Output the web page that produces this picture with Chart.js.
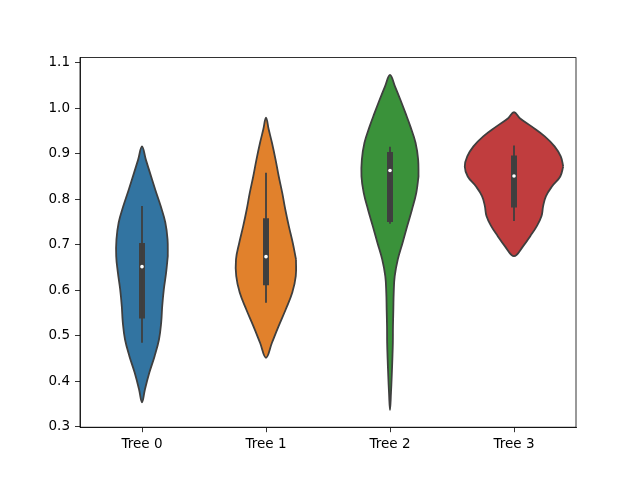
<!DOCTYPE html>
<html>
<head>
<meta charset="utf-8">
<script src="https://cdn.jsdelivr.net/npm/chart.js@4/dist/chart.umd.min.js"></script>
<style>
  html, body { margin: 0; padding: 0; background: #fff; }
  canvas { display: block; }
</style>
</head>
<body>
<canvas id="violinChart" width="640" height="480"></canvas>
<script>
const categories = ['Tree 0', 'Tree 1', 'Tree 2', 'Tree 3'];
const yTicks = [0.3, 0.4, 0.5, 0.6, 0.7, 0.8, 0.9, 1.0, 1.1];

// violin outlines: y levels (top to bottom) and half widths in category units
const levels0 = [0.916, 0.887, 0.859, 0.821, 0.784, 0.749, 0.712, 0.675, 0.640, 0.602, 0.565, 0.530, 0.492, 0.455, 0.420, 0.383, 0.354];
const widths0 = [0, 0.031, 0.063, 0.107, 0.152, 0.188, 0.206, 0.208, 0.195, 0.176, 0.163, 0.155, 0.137, 0.101, 0.060, 0.024, 0];

const levels1 = [0.979, 0.953, 0.924, 0.887, 0.850, 0.814, 0.777, 0.741, 0.704, 0.668, 0.631, 0.595, 0.558, 0.521, 0.485, 0.452];
const widths1 = [0, 0.022, 0.048, 0.077, 0.103, 0.131, 0.156, 0.184, 0.216, 0.242, 0.240, 0.212, 0.159, 0.101, 0.048, 0];

const levels2 = [1.073, 1.048, 1.019, 0.989, 0.960, 0.924, 0.887, 0.850, 0.814, 0.777, 0.741, 0.704, 0.668, 0.631, 0.595, 0.558, 0.521, 0.485, 0.448, 0.412, 0.375, 0.337];
const widths2 = [0, 0.040, 0.083, 0.125, 0.164, 0.206, 0.227, 0.230, 0.212, 0.177, 0.139, 0.101, 0.063, 0.038, 0.030, 0.027, 0.024, 0.023, 0.019, 0.014, 0.008, 0];

const levels3 = [0.991, 0.978, 0.960, 0.938, 0.916, 0.894, 0.872, 0.850, 0.829, 0.807, 0.785, 0.763, 0.741, 0.719, 0.697, 0.675];
const widths3 = [0, 0.047, 0.141, 0.248, 0.327, 0.377, 0.397, 0.373, 0.309, 0.258, 0.235, 0.222, 0.184, 0.131, 0.074, 0];

// inner box stats
const whiskerLow = [0.485, 0.573, 0.746, 0.752];
const q1 = [0.538, 0.611, 0.750, 0.782];
const medians = [0.652, 0.674, 0.863, 0.851];
const q3 = [0.704, 0.758, 0.904, 0.896];
const whiskerHigh = [0.785, 0.858, 0.915, 0.918];

const colors = ['#3274a1', '#e1812c', '#3a923a', '#c03d3e'];
const edgeColor = '#3f3f3f';

const allLevels = [levels0, levels1, levels2, levels3];
const allWidths = [widths0, widths1, widths2, widths3];

// closed outline, started at the widest right point so both tips stay smooth
function outline(i) {
    const lv = allLevels[i];
    const wd = allWidths[i];
    const ring = [];
    for (let k = 0; k < lv.length; k++) ring.push({ x: i + wd[k], y: lv[k] });
    for (let k = lv.length - 2; k > 0; k--) ring.push({ x: i - wd[k], y: lv[k] });
    let start = 0;
    for (let k = 0; k < lv.length; k++) if (wd[k] > wd[start]) start = k;
    const pts = ring.slice(start).concat(ring.slice(0, start));
    pts.push(pts[0]);
    return pts;
}

const datasets = [];
categories.forEach((c, i) => {
    datasets.push({
        data: outline(i),
        showLine: true,
        fill: 'shape',
        backgroundColor: colors[i],
        borderColor: edgeColor,
        borderWidth: 1.8,
        tension: 0.4,
        pointRadius: 0,
        order: 2
    });
    datasets.push({
        data: [{ x: i, y: whiskerLow[i] }, { x: i, y: whiskerHigh[i] }],
        showLine: true,
        borderColor: edgeColor,
        borderWidth: 1.8,
        pointRadius: 0,
        order: 1
    });
    datasets.push({
        data: [{ x: i, y: q1[i] }, { x: i, y: q3[i] }],
        showLine: true,
        borderColor: edgeColor,
        borderWidth: 6,
        borderCapStyle: 'butt',
        pointRadius: 0,
        order: 1
    });
    datasets.push({
        data: [{ x: i, y: medians[i] }],
        pointRadius: 1.8,
        pointBorderWidth: 0,
        pointBackgroundColor: '#ffffff',
        order: 0
    });
});

const frame = {
    id: 'frame',
    afterDraw(chart) {
        const { ctx, chartArea: a } = chart;
        ctx.save();
        ctx.strokeStyle = '#000';
        ctx.lineWidth = 0.8;
        ctx.strokeRect(a.left, a.top, a.right - a.left, a.bottom - a.top);
        ctx.restore();
    }
};

const tickFont = { family: 'DejaVu Sans', size: 13.5 };

new Chart(document.getElementById('violinChart'), {
    type: 'scatter',
    data: { datasets: datasets },
    options: {
        responsive: false,
        animation: false,
        layout: { padding: { top: 57.6, right: 64, left: 0, bottom: 0 } },
        plugins: { legend: { display: false }, tooltip: { enabled: false } },
        scales: {
            x: {
                type: 'linear',
                min: -0.5,
                max: 3.5,
                afterBuildTicks: (s) => { s.ticks = categories.map((c, i) => ({ value: i })); },
                afterFit: (s) => { s.height = 52.8; },
                ticks: {
                    callback: (v) => categories[v],
                    color: '#000',
                    font: tickFont,
                    padding: 4,
                    maxRotation: 0
                },
                grid: { drawOnChartArea: false, tickLength: 5, color: '#000', tickWidth: 0.8 },
                border: { color: '#000', width: 0.8 }
            },
            y: {
                min: 0.2995,
                max: 1.111,
                afterBuildTicks: (s) => { s.ticks = yTicks.map(v => ({ value: v })); },
                afterFit: (s) => { s.width = 80; },
                ticks: {
                    callback: (v) => v.toFixed(1),
                    color: '#000',
                    font: tickFont,
                    padding: 5
                },
                grid: { drawOnChartArea: false, tickLength: 5, color: '#000', tickWidth: 0.8 },
                border: { color: '#000', width: 0.8 }
            }
        }
    },
    plugins: [frame]
});
</script>
</body>
</html>
